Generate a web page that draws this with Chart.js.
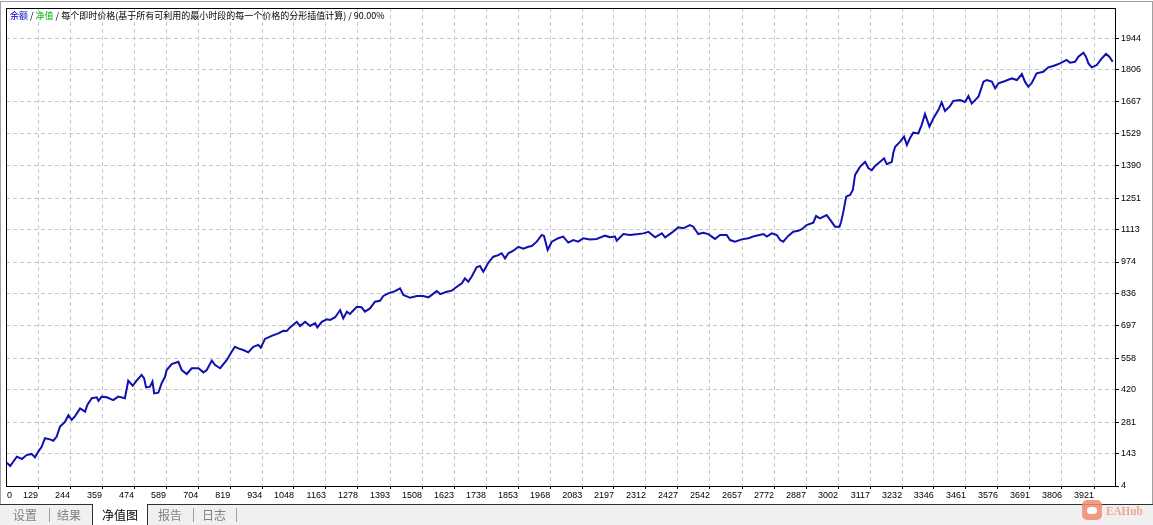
<!DOCTYPE html>
<html>
<head>
<meta charset="utf-8">
<script src="https://cdn.jsdelivr.net/npm/chart.js@4.4.0/dist/chart.umd.min.js"></script>
<style>
  body { margin: 0; width: 1153px; height: 525px; background: #fff; position: relative; overflow: hidden; }
  #wrap { position: absolute; left: 0; top: 0; width: 1153px; height: 503px; }
  #outer { position: absolute; left: 0; top: 1px; width: 1151px; height: 503px; border: 1px solid #a0a0a0; border-bottom: none; pointer-events: none; }
  #caption { position: absolute; left: 10px; top: 10px; font: 9px "Noto Sans CJK SC", sans-serif; line-height: 12px; color: #000; white-space: nowrap; }
  #caption .bal { color: #0000c8; }
  #caption .eq { color: #00b000; }
  #tabs { position: absolute; left: 0; top: 504px; width: 1153px; height: 21px; background: #f0f0f0; border-top: 1px solid #303030; font: 12px "Noto Sans CJK SC", sans-serif; }
  .tab { position: absolute; top: 0; line-height: 20px; color: #808080; }
  .sep { position: absolute; top: 3px; width: 1px; height: 14px; background: #a0a0a0; }
  .tab.on { top: -1px; left: 92px; width: 54px; height: 22px; line-height: 21px; background: #fff; color: #000; text-align: center; border-left: 1px solid #303030; border-right: 1px solid #303030; }
  #logo { position: absolute; left: 1082px; top: 500px; width: 20px; height: 20px; border-radius: 5px; background: #f28b6f; opacity: 0.85; }
  #logo::after { content: ""; position: absolute; left: 5px; top: 7px; width: 10px; height: 7px; border-radius: 5px; background: #fff; }
  #brand { position: absolute; left: 1106px; top: 503px; font: bold 13px "Liberation Serif", serif; color: #f4a48e; transform: scaleX(0.86); transform-origin: left top; }
</style>
</head>
<body>
<div id="wrap"><canvas id="equity" width="1153" height="503"></canvas></div>
<div id="outer"></div>
<div id="caption"><span class="bal">余额</span> / <span class="eq">净值</span> / 每个即时价格(基于所有可利用的最小时段的每一个价格的分形插值计算) / 90.00%</div>
<div id="tabs">
  <span class="tab" style="left:13px">设置</span>
  <span class="sep" style="left:49px"></span>
  <span class="tab" style="left:57px">结果</span>
  <span class="tab on">净值图</span>
  <span class="tab" style="left:158px">报告</span>
  <span class="sep" style="left:193px"></span>
  <span class="tab" style="left:202px">日志</span>
  <span class="sep" style="left:236px"></span>
</div>
<div id="logo"></div>
<div id="brand">EAHub</div>
<script>
// trade number (x) and balance (y)
const tradeNo = [
  17, 29, 40, 53, 71, 88, 106, 118, 130, 142,
  154, 172, 184, 196, 208, 226, 238, 250, 262, 280,
  298, 306, 322, 340, 346, 358, 376, 399, 417, 441,
  453, 469, 483, 501, 510, 517, 531, 540, 546, 561,
  573, 585, 591, 609, 633, 645, 663, 681, 705, 723,
  735, 753, 765, 783, 807, 825, 836, 848, 866, 884,
  902, 920, 929, 944, 968, 992, 1010, 1022, 1034, 1058,
  1070, 1088, 1106, 1124, 1132, 1148, 1166, 1178, 1196, 1214,
  1225, 1238, 1249, 1274, 1291, 1303, 1321, 1339, 1357, 1369,
  1387, 1411, 1429, 1441, 1465, 1489, 1513, 1531, 1561, 1573,
  1597, 1615, 1633, 1651, 1662, 1674, 1686, 1704, 1716, 1728,
  1746, 1764, 1782, 1794, 1806, 1818, 1836, 1854, 1872, 1890,
  1902, 1920, 1938, 1946, 1959, 1974, 1997, 2015, 2033, 2051,
  2069, 2087, 2111, 2135, 2165, 2183, 2201, 2207, 2231, 2255,
  2285, 2303, 2321, 2345, 2369, 2381, 2405, 2428, 2446, 2470,
  2482, 2500, 2518, 2536, 2560, 2578, 2602, 2614, 2632, 2656,
  2680, 2704, 2734, 2746, 2764, 2782, 2794, 2805, 2823, 2841,
  2859, 2872, 2889, 2913, 2923, 2937, 2961, 2979, 2991, 3007,
  3013, 3021, 3031, 3045, 3055, 3063, 3081, 3099, 3111, 3123,
  3135, 3153, 3167, 3177, 3195, 3200, 3207, 3225, 3239, 3249,
  3260, 3272, 3290, 3302, 3314, 3330, 3344, 3362, 3374, 3386,
  3404, 3416, 3440, 3458, 3470, 3482, 3494, 3506, 3512, 3524,
  3536, 3554, 3566, 3578, 3602, 3626, 3644, 3662, 3673, 3685,
  3697, 3715, 3739, 3757, 3775, 3799, 3823, 3835, 3853, 3865,
  3883, 3892, 3901, 3913, 3931, 3949, 3964, 3976, 3988
];
const balance = [
  105, 91, 109, 131, 121, 138, 143, 128, 153, 174,
  211, 206, 200, 218, 261, 282, 311, 290, 307, 340,
  326, 355, 384, 388, 373, 391, 388, 376, 391, 384,
  460, 438, 460, 485, 470, 431, 434, 456, 405, 408,
  449, 477, 506, 532, 542, 506, 489, 514, 514, 496,
  506, 547, 528, 514, 550, 586, 607, 600, 593, 583,
  607, 615, 603, 641, 654, 665, 676, 675, 691, 715,
  697, 715, 697, 709, 691, 715, 726, 723, 735, 766,
  730, 759, 749, 780, 778, 759, 773, 802, 806, 827,
  838, 848, 860, 831, 819, 827, 827, 821, 848, 835,
  845, 850, 867, 882, 903, 889, 910, 951, 957, 932,
  971, 997, 1004, 1012, 990, 1012, 1023, 1040, 1032, 1040,
  1043, 1062, 1091, 1087, 1026, 1062, 1077, 1084, 1058, 1069,
  1062, 1077, 1072, 1074, 1088, 1081, 1084, 1066, 1095, 1091,
  1095, 1098, 1105, 1081, 1098, 1081, 1101, 1124, 1120, 1134,
  1127, 1095, 1101, 1095, 1074, 1091, 1091, 1069, 1062, 1072,
  1077, 1087, 1095, 1084, 1098, 1091, 1069, 1062, 1087, 1105,
  1109, 1116, 1134, 1144, 1173, 1163, 1177, 1148, 1127, 1127,
  1148, 1192, 1257, 1264, 1286, 1351, 1387, 1408, 1380, 1372,
  1390, 1408, 1423, 1398, 1408, 1445, 1473, 1495, 1517, 1481,
  1510, 1534, 1531, 1567, 1615, 1560, 1596, 1632, 1665, 1628,
  1649, 1672, 1675, 1667, 1693, 1660, 1675, 1690, 1711, 1755,
  1762, 1755, 1726, 1748, 1758, 1769, 1762, 1788, 1755, 1733,
  1748, 1791, 1798, 1817, 1823, 1834, 1849, 1837, 1841, 1863,
  1880, 1863, 1834, 1817, 1827, 1856, 1875, 1863, 1841
];

const xTickLabels = ["0", "129", "244", "359", "474", "589", "704", "819", "934", "1048",
  "1163", "1278", "1393", "1508", "1623", "1738", "1853", "1968", "2083", "2197",
  "2312", "2427", "2542", "2657", "2772", "2887", "3002", "3117", "3232", "3346",
  "3461", "3576", "3691", "3806", "3921"];
const yTickLabels = ["4", "143", "281", "420", "558", "697", "836", "974", "1113", "1251",
  "1390", "1529", "1667", "1806", "1944"];

const xMin = 14, xMax = 4000;
const yMin = 4, yMax = 2074;

const gridColor = "#c8c8c8";
const tickFont = { family: "Liberation Sans", size: 9 };

// black frame round the plot
const framePlugin = {
  id: "frame",
  afterDraw(chart) {
    const { ctx, chartArea: a } = chart;
    ctx.save();
    ctx.strokeStyle = "#000";
    ctx.lineWidth = 1;
    ctx.strokeRect(Math.round(a.left) + 0.5, Math.round(a.top) + 0.5,
      Math.round(a.right - a.left) - 1, Math.round(a.bottom - a.top));
    ctx.restore();
  }
};

new Chart(document.getElementById("equity"), {
  type: "line",
  data: {
    datasets: [{
      label: "余额",
      data: tradeNo.map((t, i) => ({ x: t, y: balance[i] })),
      borderColor: "#1010b0",
      borderWidth: 2,
      pointRadius: 0,
      tension: 0,
    }],
  },
  options: {
    responsive: false,
    animation: false,
    layout: { padding: { left: 6, top: 8, right: 0, bottom: 0 } },
    plugins: { legend: { display: false }, tooltip: { enabled: false } },
    scales: {
      x: {
        type: "linear",
        position: "bottom",
        min: xMin,
        max: xMax,
        afterBuildTicks: (axis) => {
          // the "0" label sits just inside the left edge
          axis.ticks = xTickLabels.map((l, i) => ({ value: i === 0 ? xMin + 22 : Number(l) }));
        },
        afterFit: (axis) => { axis.height = 17; },
        ticks: {
          autoSkip: false,
          maxRotation: 0,
          align: "end",
          padding: 1,
          color: "#000",
          font: tickFont,
          callback: (v, i) => xTickLabels[i],
        },
        grid: {
          color: (c) => (c.index === 0 ? "transparent" : gridColor),
          tickColor: (c) => (c.index === 0 ? "transparent" : "#000"),
          tickLength: 3,
        },
        border: { display: false, dash: [4, 3] },
      },
      y: {
        type: "linear",
        position: "right",
        min: yMin,
        max: yMax,
        afterBuildTicks: (axis) => {
          axis.ticks = yTickLabels.map((l) => ({ value: Number(l) }));
        },
        afterFit: (axis) => { axis.width = 37; },
        ticks: {
          padding: 2,
          color: "#000",
          font: tickFont,
          callback: (v, i) => yTickLabels[i],
        },
        grid: {
          color: gridColor,
          tickColor: "#000",
          tickLength: 3,
        },
        border: { display: false, dash: [4, 3] },
      },
    },
  },
  plugins: [framePlugin],
});
</script>
</body>
</html>
